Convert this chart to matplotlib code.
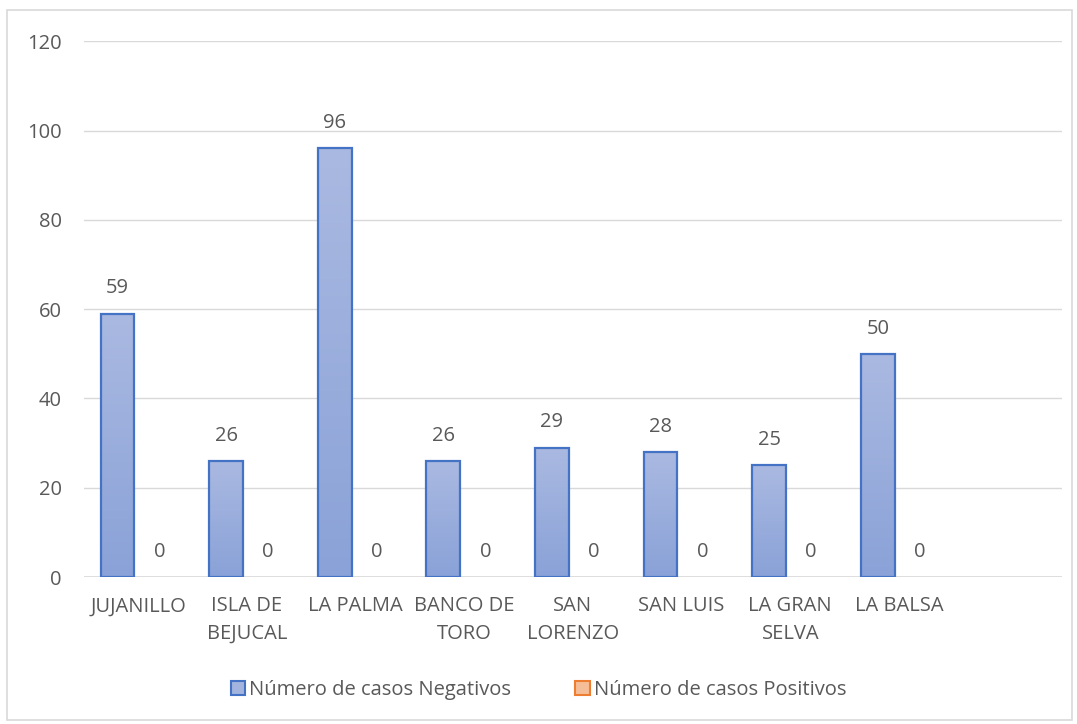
import numpy as np
import matplotlib.pyplot as plt
from matplotlib.patches import Rectangle
from matplotlib.colors import LinearSegmentedColormap

plt.rcParams['font.family'] = ['Open Sans', 'DejaVu Sans']

categorias = ["JUJANILLO", "ISLA DE\nBEJUCAL", "LA PALMA", "BANCO DE\nTORO", "SAN\nLORENZO",
              "SAN LUIS", "LA GRAN\nSELVA", "LA BALSA", ""]
negativos = [59, 26, 96, 26, 29, 28, 25, 50]
positivos = [0, 0, 0, 0, 0, 0, 0, 0]
serie_neg = "Número de casos Negativos"
serie_pos = "Número de casos Positivos"

gris = '#595959'
azul_borde = '#4472C4'
naranja_borde = '#ED7D31'
grad_azul = LinearSegmentedColormap.from_list('az', ['#8AA2D8', '#AAB9E1'])
grad_naranja = LinearSegmentedColormap.from_list('na', ['#F4B183', '#F8CBAD'])
fs = 14.5

fig = plt.figure(figsize=(10.77, 7.24), dpi=100)
ax = fig.add_axes([0.078, 0.203, 0.908, 0.740])

# marco exterior del grafico
fig.patches.append(Rectangle((7 / 1077, 4 / 724), 1065 / 1077, 710 / 724, transform=fig.transFigure,
                             fill=False, edgecolor='#D9D9D9', lw=1.2))

x = np.arange(len(categorias))
ancho = 0.31
desp = 0.193
gradiente = np.linspace(0, 1, 256).reshape(-1, 1)


def barra(xc, valor, cmap, borde):
    if valor > 0:
        ax.imshow(gradiente, cmap=cmap, origin='lower', aspect='auto',
                  extent=(xc - ancho / 2, xc + ancho / 2, 0, valor), zorder=2)
        ax.bar(xc, valor, width=ancho, facecolor='none', edgecolor=borde, lw=1.6, zorder=3)
    ax.text(xc, valor + 3.4, str(valor), ha='center', va='bottom', fontsize=fs, color=gris)


for i in range(len(negativos)):
    barra(x[i] - desp, negativos[i], grad_azul, azul_borde)
    barra(x[i] + desp, positivos[i], grad_naranja, naranja_borde)

ax.set_xlim(-0.5, len(categorias) - 0.5)
ax.set_ylim(0, 120)
ax.set_yticks(range(0, 121, 20))
ax.set_xticks(x)
ax.set_xticklabels(categorias, linespacing=1.5)
ax.tick_params(length=0, labelsize=fs, labelcolor=gris)
ax.tick_params(axis='y', pad=16)
ax.tick_params(axis='x', pad=14)
ax.grid(axis='y', color='#D9D9D9', lw=1)
ax.set_axisbelow(True)
for s in ax.spines.values():
    s.set_visible(False)
ax.axhline(0, color='#D9D9D9', lw=1.2, zorder=1)

# leyenda
h1 = Rectangle((0, 0), 1, 1, facecolor='#A3B4DE', edgecolor=azul_borde, lw=1.5)
h2 = Rectangle((0, 0), 1, 1, facecolor='#F6BE98', edgecolor=naranja_borde, lw=1.5)
fig.legend([h1, h2], [serie_neg, serie_pos], loc='center', bbox_to_anchor=(0.5, 0.047), ncol=2,
           frameon=False, fontsize=fs, labelcolor=gris, handlelength=0.7, handleheight=0.7,
           handletextpad=0.2, columnspacing=3.2)

fig.savefig('out.png', dpi=100)
